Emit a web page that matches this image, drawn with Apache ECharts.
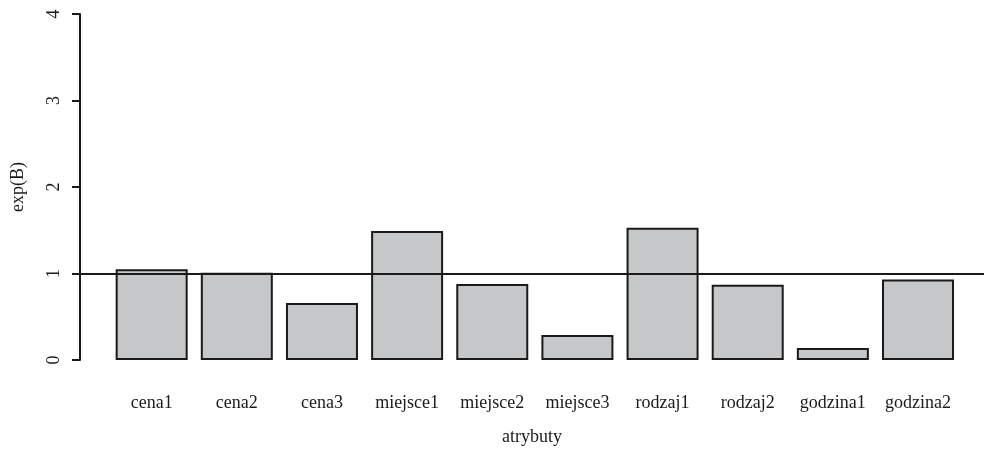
<!DOCTYPE html>
<html>
<head>
<meta charset="utf-8">
<script src="https://cdn.jsdelivr.net/npm/echarts@6/dist/echarts.min.js"></script>
<style>
  html, body { margin: 0; padding: 0; background: #fff; }
  #chart { width: 984px; height: 450px; }
</style>
</head>
<body>
<div id="chart"></div>
<script>
const categories = ["cena1", "cena2", "cena3", "miejsce1", "miejsce2", "miejsce3", "rodzaj1", "rodzaj2", "godzina1", "godzina2"];
const expB = [1.05, 1.01, 0.66, 1.49, 0.88, 0.29, 1.53, 0.87, 0.14, 0.93];
const yTicks = [0, 1, 2, 3, 4];
const refLine = 1;

// barplot layout: width 1, space 0.2
const centers = categories.map((c, i) => 0.7 + 1.2 * i);

const myChart = echarts.init(document.getElementById("chart"));
const font = "Liberation Serif";
myChart.setOption({
  animation: false,
  grid: { left: 80, right: 0, top: 14, bottom: 90, outerBoundsMode: "none", containLabel: false },
  xAxis: {
    type: "value",
    min: -0.31,
    max: 12.43,
    name: "atrybuty",
    nameLocation: "middle",
    nameGap: 68,
    nameTextStyle: { fontFamily: font, fontSize: 18, color: "#1a1a1a" },
    axisLine: { show: false, onZero: false },
    axisTick: { show: false },
    splitLine: { show: false },
    axisLabel: {
      customValues: centers,
      margin: 34,
      fontFamily: font,
      fontSize: 18,
      color: "#1a1a1a",
      formatter: (v) => {
        const i = centers.findIndex((c) => Math.abs(c - v) < 1e-6);
        return i >= 0 ? categories[i] : "";
      },
    },
  },
  yAxis: {
    type: "value",
    min: 0,
    max: 4,
    interval: 1,
    name: "exp(B)",
    nameLocation: "middle",
    nameGap: 53,
    nameRotate: 90,
    nameTextStyle: { fontFamily: font, fontSize: 18, color: "#1a1a1a" },
    axisLine: { show: true, onZero: false, lineStyle: { color: "#1a1a1a", width: 2 } },
    axisTick: { show: true, length: 8, lineStyle: { color: "#1a1a1a", width: 2 } },
    splitLine: { show: false },
    axisLabel: {
      rotate: 90,
      margin: 17,
      fontFamily: font,
      fontSize: 18,
      color: "#1a1a1a",
      formatter: (v) => (yTicks.includes(v) ? String(v) : ""),
    },
  },
  series: [
    {
      type: "bar",
      data: expB.map((v, i) => [centers[i], v]),
      barWidth: 72,
      itemStyle: { color: "#c6c7c9", borderColor: "#1a1a1a", borderWidth: 2 },
      markLine: {
        silent: true,
        symbol: "none",
        label: { show: false },
        lineStyle: { color: "#1a1a1a", width: 2, type: "solid" },
        data: [{ yAxis: refLine }],
      },
    },
  ],
});
</script>
</body>
</html>
